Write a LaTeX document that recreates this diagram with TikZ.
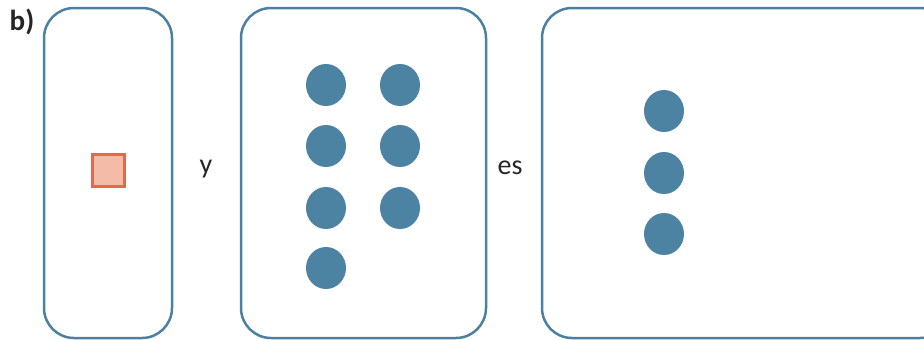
\documentclass[tikz,border=0pt]{standalone}
\usepackage{fontspec}
\setmainfont{Carlito}
\usetikzlibrary{shapes.geometric}
\definecolor{boxblue}{RGB}{76,128,160}
\definecolor{dotblue}{RGB}{76,130,162}
\definecolor{sqfill}{RGB}{244,188,168}
\definecolor{sqdraw}{RGB}{222,106,80}
\begin{document}
\begin{tikzpicture}[x=1pt,y=-1pt,
  panel/.style={draw=boxblue,line width=2.5pt,rounded corners=30pt},
  dot/.style={ellipse,fill=dotblue,minimum width=40pt,minimum height=42pt,inner sep=0pt},
  word/.style={font=\fontsize{28}{32}\selectfont,text=black!85,inner sep=0pt}]
\useasboundingbox (0,0) rectangle (924,340);
\draw[panel] (44,8) rectangle (172,338);
\draw[panel] (241,8) rectangle (486,338);
\draw[panel] (542,8) rectangle (950,338);
\node[fill=sqfill,draw=sqdraw,line width=2.2pt,minimum size=32pt,inner sep=0pt] (sq) at (108.5,170.5) {};
\node[word] (y) at (206,169) {y};
\node[word] (es) at (510,168) {es};
\node[word,font=\fontsize{29}{32}\selectfont\bfseries] (b) at (22,22) {b)};
\foreach \x/\y [count=\i] in {326/85,400/85,326/146,400/146,326/208,400/208,326/268}
  \node[dot] (d\i) at (\x,\y) {};
\foreach \y [count=\i] in {111,173,234}
  \node[dot] (e\i) at (664,\y) {};
\end{tikzpicture}
\end{document}
